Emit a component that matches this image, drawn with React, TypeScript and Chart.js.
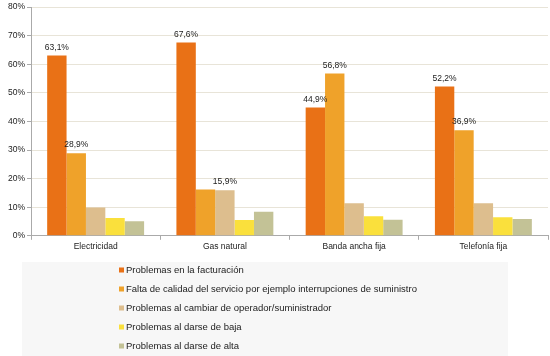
import React, { useEffect, useRef } from "react";
import { Chart, registerables } from "chart.js";

Chart.register(...registerables);

const categories = ["Electricidad", "Gas natural", "Banda ancha fija", "Telefonía fija"];
const seriesNames = [
  "Problemas en la facturación",
  "Falta de calidad del servicio por ejemplo interrupciones de suministro",
  "Problemas al cambiar de operador/suministrador",
  "Problemas al darse de baja",
  "Problemas al darse de alta",
];
const facturacion = [63.1, 67.6, 44.9, 52.2];
const calidad = [28.9, 16.2, 56.8, 36.9];
const cambiar = [9.9, 15.9, 11.4, 11.4];
const baja = [6.2, 5.5, 6.8, 6.5];
const alta = [5.1, 8.4, 5.6, 5.9];
const labelFacturacion = [true, true, true, true];
const labelCalidad = [true, false, true, true];
const labelCambiar = [false, true, false, false];
const labelBaja = [false, false, false, false];
const labelAlta = [false, false, false, false];
const colors = ["#E97116", "#EFA22A", "#DDBE8E", "#FAE03C", "#C3C296"];
const yTicks = [0, 10, 20, 30, 40, 50, 60, 70, 80];

const FONT = "'Liberation Sans', Arial, sans-serif";

const values = [facturacion, calidad, cambiar, baja, alta];
const labelFlags = [labelFacturacion, labelCalidad, labelCambiar, labelBaja, labelAlta];

const fmt = (v: number) => v.toFixed(1).replace(".", ",") + "%";

const valueLabelPlugin = {
  id: "valueLabels",
  afterDatasetsDraw(chart: any) {
    const ctx = chart.ctx;
    ctx.save();
    ctx.font = `8.5px ${FONT}`;
    ctx.fillStyle = "#222";
    ctx.textAlign = "center";
    ctx.textBaseline = "bottom";
    chart.data.datasets.forEach((ds: any, di: number) => {
      const meta = chart.getDatasetMeta(di);
      meta.data.forEach((bar: any, i: number) => {
        if (!labelFlags[di][i]) return;
        ctx.fillText(fmt(ds.data[i]), bar.x, bar.y - 4);
      });
    });
    ctx.restore();
  },
};

const legendPlugin = {
  id: "customLegend",
  afterDraw(chart: any) {
    const ctx = chart.ctx;
    ctx.save();
    ctx.fillStyle = "#f7f7f7";
    ctx.fillRect(22, 262, 486, 94);
    ctx.font = `9.5px ${FONT}`;
    ctx.textBaseline = "middle";
    ctx.textAlign = "left";
    chart.data.datasets.forEach((ds: any, i: number) => {
      const y = 270 + i * 19;
      ctx.fillStyle = ds.backgroundColor;
      ctx.fillRect(119, y - 2.5, 5, 5);
      ctx.fillStyle = "#222";
      ctx.fillText(ds.label, 126, y);
    });
    ctx.restore();
  },
};

export default function App() {
  const ref = useRef<HTMLCanvasElement>(null);
  useEffect(() => {
    document.body.style.margin = "0";
    const chart = new Chart(ref.current!, {
      type: "bar",
      data: {
        labels: categories,
        datasets: values.map((d, i) => ({
          label: seriesNames[i],
          data: d,
          backgroundColor: colors[i],
          borderWidth: 0,
          categoryPercentage: 0.75,
          barPercentage: 1,
        })),
      },
      options: {
        animation: false,
        responsive: true,
        maintainAspectRatio: false,
        layout: { padding: { left: 6, right: 2, top: 5, bottom: 102 } },
        plugins: { legend: { display: false }, tooltip: { enabled: false } },
        scales: {
          x: {
            grid: {
              offset: true,
              drawOnChartArea: false,
              color: "#aaa",
              tickLength: 4,
            },
            border: { color: "#aaa" },
            ticks: { font: { size: 8.5, family: FONT }, color: "#222", padding: 2 },
          },
          y: {
            min: 0,
            max: 80,
            afterBuildTicks: (axis: any) => {
              axis.ticks = yTicks.map((v) => ({ value: v }));
            },
            grid: { color: "#e8e4d8", tickColor: "#aaa", tickLength: 4 },
            border: { color: "#aaa" },
            ticks: {
              font: { size: 8.5, family: FONT },
              color: "#222",
              padding: 2,
              callback: (v: any) => v + "%",
            },
          },
        },
      },
      plugins: [valueLabelPlugin, legendPlugin],
    });
    return () => chart.destroy();
  }, []);
  return (
    <div style={{ position: "absolute", left: 0, top: 0, width: 550, height: 356, background: "#fff" }}>
      <canvas ref={ref} />
    </div>
  );
}
